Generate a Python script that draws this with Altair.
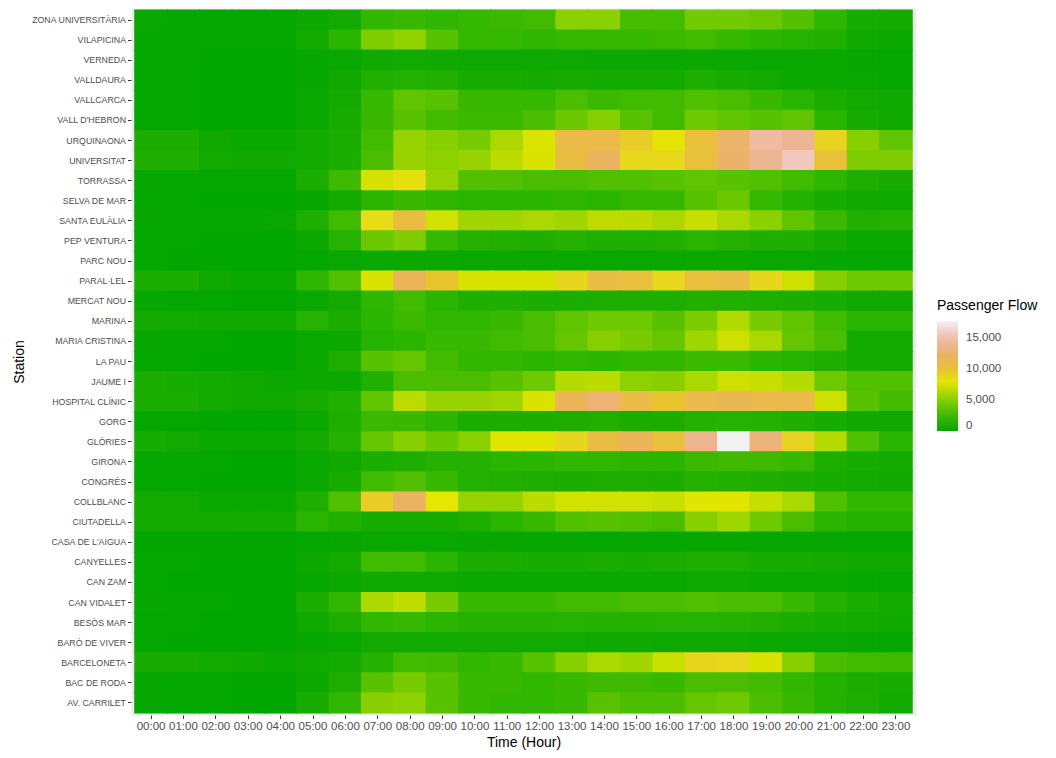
import altair as alt
import pandas as pd

hours = ["00:00", "01:00", "02:00", "03:00", "04:00", "05:00", "06:00", "07:00",
         "08:00", "09:00", "10:00", "11:00", "12:00", "13:00", "14:00", "15:00",
         "16:00", "17:00", "18:00", "19:00", "20:00", "21:00", "22:00", "23:00"]

# stations, top to bottom
stations = ["ZONA UNIVERSITÀRIA", "VILAPICINA", "VERNEDA", "VALLDAURA", "VALLCARCA",
            "VALL D'HEBRON", "URQUINAONA", "UNIVERSITAT", "TORRASSA", "SELVA DE MAR",
            "SANTA EULÀLIA", "PEP VENTURA", "PARC NOU", "PARAL·LEL", "MERCAT NOU",
            "MARINA", "MARIA CRISTINA", "LA PAU", "JAUME I", "HOSPITAL CLÍNIC",
            "GORG", "GLÒRIES", "GIRONA", "CONGRÉS", "COLLBLANC", "CIUTADELLA",
            "CASA DE L'AIGUA", "CANYELLES", "CAN ZAM", "CAN VIDALET", "BESÒS MAR",
            "BARÓ DE VIVER", "BARCELONETA", "BAC DE RODA", "AV. CARRILET"]

# passenger flow per station (same order), 24 hourly values each
flows = [
    [200, 150, 100, 100, 100, 300, 500, 2100, 2300, 2000, 2200, 2400, 2600, 5200, 5200, 2800, 2700, 4400, 4400, 4200, 3300, 2000, 700, 600],
    [150, 100, 100, 80, 80, 500, 1800, 4800, 5400, 3500, 2200, 2200, 2000, 2200, 2200, 2200, 2400, 2600, 2200, 1800, 1500, 1200, 400, 300],
    [100, 80, 60, 50, 50, 150, 250, 400, 450, 400, 350, 350, 350, 350, 300, 300, 300, 300, 250, 250, 200, 200, 150, 100],
    [100, 80, 60, 50, 50, 150, 400, 1200, 1400, 1200, 700, 700, 600, 800, 600, 600, 600, 1100, 700, 500, 300, 300, 200, 150],
    [100, 80, 60, 50, 50, 200, 600, 2300, 3800, 3500, 2300, 2300, 2200, 3000, 2400, 2600, 2600, 3200, 2900, 2300, 1700, 900, 500, 400],
    [100, 80, 60, 50, 50, 250, 800, 2300, 3500, 2600, 2400, 2400, 2900, 4200, 5100, 3500, 2600, 4300, 3800, 3500, 3800, 1800, 700, 400],
    [900, 900, 400, 300, 300, 600, 900, 2600, 5600, 5100, 4600, 6200, 7600, 10800, 10800, 9400, 8000, 10300, 12400, 14600, 14000, 9000, 5100, 3800],
    [1100, 1100, 500, 400, 400, 600, 900, 2900, 5600, 5300, 5600, 6700, 7500, 10600, 11800, 8700, 8700, 10300, 12300, 14000, 15700, 10200, 4800, 4800],
    [150, 150, 100, 80, 80, 900, 2500, 7400, 8200, 5600, 3200, 3200, 2900, 2900, 3200, 3200, 3500, 3800, 3500, 3200, 2600, 2000, 1100, 700],
    [100, 80, 60, 50, 50, 150, 500, 1800, 2300, 2000, 1700, 1700, 1800, 2000, 1700, 2200, 2200, 3500, 4200, 2200, 1400, 700, 400, 400],
    [150, 100, 80, 80, 250, 1100, 2600, 8500, 10600, 7300, 5900, 5900, 6200, 5900, 6700, 6700, 6200, 7000, 6200, 5200, 3800, 2400, 1200, 1400],
    [100, 80, 60, 50, 50, 300, 1500, 4200, 4800, 2200, 1400, 1200, 1100, 1400, 1100, 1100, 1200, 1700, 1400, 1100, 1100, 600, 300, 300],
    [80, 60, 50, 40, 40, 100, 200, 300, 300, 300, 250, 250, 250, 250, 250, 250, 250, 300, 300, 250, 200, 150, 100, 100],
    [900, 900, 400, 300, 300, 2000, 3200, 7500, 11600, 9800, 7500, 7500, 7500, 8800, 10600, 10300, 8700, 10300, 10600, 8800, 7200, 5100, 4300, 4300],
    [150, 100, 80, 60, 60, 200, 500, 2000, 2600, 1800, 1100, 1100, 900, 900, 1000, 1000, 1000, 1200, 1200, 1000, 900, 700, 400, 400],
    [500, 500, 400, 400, 400, 1500, 900, 1800, 2400, 2100, 2100, 2300, 2900, 3800, 4300, 4300, 3500, 4700, 6400, 4600, 3800, 2600, 1800, 1800],
    [150, 100, 80, 60, 60, 200, 300, 1500, 1800, 2300, 2300, 2600, 2900, 4000, 5100, 4600, 4000, 5900, 7200, 6200, 4000, 2900, 600, 600],
    [100, 80, 60, 50, 50, 300, 1000, 3500, 4000, 2600, 2100, 2100, 1800, 2100, 1900, 2100, 2100, 2400, 2400, 1800, 1500, 1100, 600, 500],
    [900, 700, 600, 400, 300, 300, 300, 1200, 2900, 2900, 2900, 3500, 4300, 6500, 6700, 5300, 5100, 6200, 7200, 7000, 6500, 4300, 3200, 3200],
    [900, 900, 500, 400, 400, 800, 1200, 3800, 6700, 5600, 5600, 5900, 7500, 11500, 12800, 10800, 9800, 11000, 11300, 11000, 11000, 7200, 3500, 2600],
    [100, 80, 60, 50, 50, 300, 1000, 2400, 2300, 1800, 900, 900, 900, 1000, 1200, 900, 900, 1400, 1500, 1400, 1100, 700, 400, 400],
    [700, 500, 300, 300, 300, 600, 1400, 4000, 5100, 4200, 5200, 7700, 7800, 8800, 10600, 11600, 10300, 13900, 17800, 13000, 9000, 6500, 3200, 1800],
    [150, 100, 80, 60, 60, 200, 400, 900, 1000, 1400, 1400, 1800, 1800, 2100, 2100, 1800, 1800, 2400, 2500, 2500, 2300, 1000, 700, 600],
    [100, 80, 60, 50, 50, 200, 800, 2600, 3200, 2300, 1400, 1200, 1000, 900, 1000, 1000, 900, 1400, 1200, 1000, 900, 700, 500, 400],
    [500, 500, 300, 300, 300, 1100, 3200, 9300, 12000, 7900, 5600, 5600, 6700, 7400, 7300, 7300, 7100, 7800, 7800, 7000, 6200, 3200, 2100, 2100],
    [500, 500, 500, 600, 600, 1800, 1200, 700, 700, 700, 1000, 1800, 2300, 3200, 3500, 3200, 2900, 5100, 5900, 4300, 2900, 1800, 1400, 1400],
    [60, 50, 40, 30, 30, 80, 120, 200, 220, 200, 180, 180, 170, 170, 170, 170, 170, 180, 180, 170, 150, 120, 100, 80],
    [100, 80, 60, 50, 50, 300, 600, 2600, 2600, 1800, 900, 900, 700, 700, 900, 700, 900, 1000, 1000, 700, 700, 500, 400, 400],
    [80, 60, 50, 40, 40, 150, 300, 400, 400, 350, 300, 300, 300, 300, 300, 300, 300, 350, 350, 300, 250, 200, 150, 100],
    [150, 100, 80, 60, 60, 900, 2100, 6200, 6800, 4600, 2300, 2300, 2300, 2600, 2600, 2900, 2900, 3200, 2900, 2900, 2300, 1400, 900, 600],
    [100, 80, 60, 50, 50, 400, 1000, 2100, 2300, 1800, 1400, 1400, 1400, 1500, 1400, 1400, 1500, 1500, 1400, 1200, 900, 700, 500, 400],
    [80, 60, 50, 40, 40, 150, 250, 500, 500, 450, 450, 450, 450, 450, 400, 400, 350, 350, 350, 300, 250, 200, 150, 100],
    [800, 800, 500, 400, 300, 400, 600, 1400, 2600, 2500, 2100, 2300, 3500, 5100, 6200, 5900, 7100, 8800, 8700, 7500, 5100, 2900, 2600, 2500],
    [150, 100, 80, 60, 60, 300, 1000, 3500, 4600, 3500, 2300, 2300, 2100, 2300, 2500, 2500, 2300, 2900, 2900, 2600, 2100, 1400, 900, 700],
    [150, 100, 80, 60, 60, 800, 2100, 5100, 5300, 3500, 2300, 2100, 2100, 2300, 3500, 2900, 2900, 4000, 4300, 2900, 2300, 1400, 1000, 600],
]

# terrain-style palette (green -> yellow -> tan -> near white)
palette = ["#00A600", "#2DB600", "#63C600", "#A0D600", "#E6E600",
           "#E8C32E", "#EBB25E", "#EDB48E", "#F0C9C0", "#F2F2F2"]
flow_max = 17800
legend_ticks = [0, 5000, 10000, 15000]

records = []
for s, row in zip(stations, flows):
    for h, v in zip(hours, row):
        records.append({"Station": s, "Hour": h, "Flow": v})
df = pd.DataFrame(records)

stops = [flow_max * i / (len(palette) - 1) for i in range(len(palette))]

chart = alt.Chart(df).mark_rect(
    width=alt.RelativeBandSize(band=1.04),
    height=alt.RelativeBandSize(band=1.06),
).encode(
    x=alt.X("Hour:O", sort=hours, title="Time (Hour)",
            scale=alt.Scale(paddingInner=0, paddingOuter=0.12),
            axis=alt.Axis(labelAngle=0, labelFontSize=11.5, labelColor="#4D4D4D",
                          tickColor="#333333", tickSize=3.5, domain=False,
                          labelPadding=2, titleFontSize=14, titleColor="black",
                          titleFontWeight="normal", titlePadding=3, grid=False)),
    y=alt.Y("Station:O", sort=stations, title="Station",
            scale=alt.Scale(paddingInner=0, paddingOuter=0.1),
            axis=alt.Axis(labelFontSize=8.8, labelColor="#4D4D4D",
                          tickColor="#333333", tickSize=3.5, domain=False,
                          labelPadding=2, titleFontSize=14, titleColor="black",
                          titleFontWeight="normal", titlePadding=5, grid=False)),
    color=alt.Color("Flow:Q",
                    scale=alt.Scale(domain=stops, range=palette, interpolate="lab"),
                    title="Passenger Flow",
                    legend=alt.Legend(orient="none",
                                      legendX=806, legendY=291,
                                      direction="vertical",
                                      titleFontSize=14, titleFontWeight="normal",
                                      titleColor="black", titlePadding=8,
                                      gradientLength=110, gradientThickness=21,
                                      gradientStrokeWidth=0,
                                      labelFontSize=11.5, labelColor="#4D4D4D",
                                      labelOffset=8, values=legend_ticks,
                                      format=",d", labelOverlap=False)),
).properties(
    width=785, height=707,
    autosize="none",
    padding={"left": 123, "top": 0, "right": 132, "bottom": 35},
    background="white",
).configure(font="Liberation Sans").configure_view(fill="#EBEBEB", stroke="transparent")

chart.save("out.html", embed_options={"renderer": "svg", "actions": False})
